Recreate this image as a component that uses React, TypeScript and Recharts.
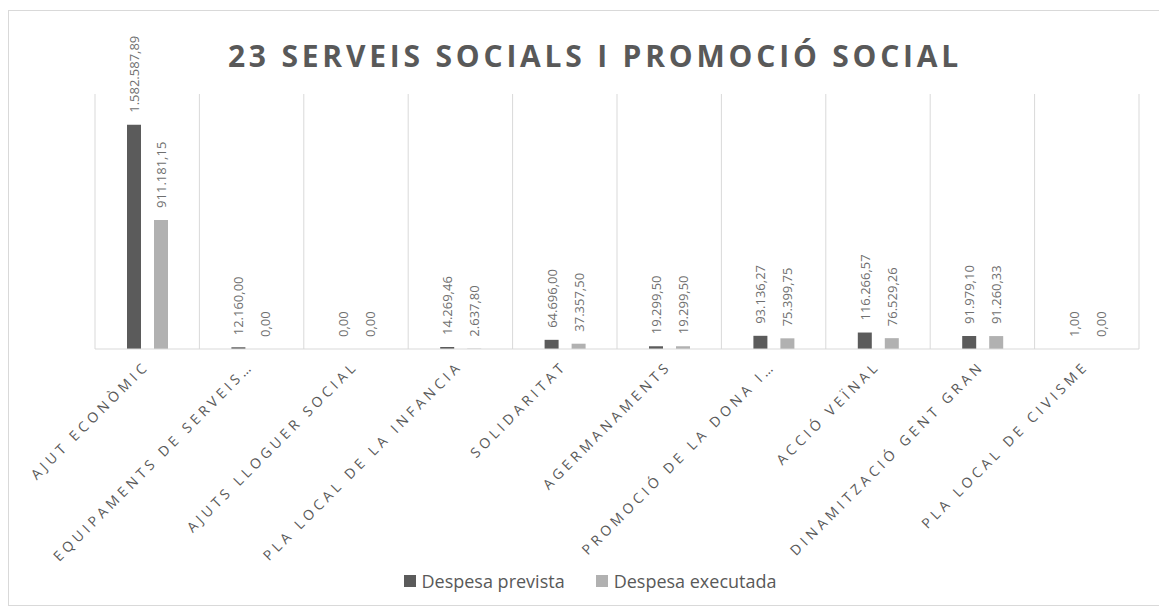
import { BarChart, Bar, XAxis, YAxis, CartesianGrid, Legend, LabelList } from 'recharts';

const categories = [
  'AJUT ECONÒMIC',
  'EQUIPAMENTS DE SERVEIS…',
  'AJUTS LLOGUER SOCIAL',
  'PLA LOCAL DE LA INFANCIA',
  'SOLIDARITAT',
  'AGERMANAMENTS',
  'PROMOCIÓ DE LA DONA I…',
  'ACCIÓ VEÏNAL',
  'DINAMITZACIÓ GENT GRAN',
  'PLA LOCAL DE CIVISME',
];

const despesaPrevista = [1582587.89, 12160.0, 0, 14269.46, 64696.0, 19299.5, 93136.27, 116266.57, 91979.1, 1.0];
const despesaExecutada = [911181.15, 0, 0, 2637.8, 37357.5, 19299.5, 75399.75, 76529.26, 91260.33, 0];

const seriesOrder = ['Despesa prevista', 'Despesa executada'];

const data = categories.map((name, i) => ({
  name,
  prevista: despesaPrevista[i],
  executada: despesaExecutada[i],
}));

const DARK = '#5b5b5b';
const LIGHT = '#b1b1b1';
const TEXT = '#595959';
const FONT = '"Open Sans", sans-serif';

// 1582587.89 -> "1.582.587,89"
function fmt(v: number) {
  const [int, dec] = v.toFixed(2).split('.');
  return int.replace(/\B(?=(\d{3})+(?!\d))/g, '.') + ',' + dec;
}

function ValueLabel(props: any) {
  const { x, y, width, value } = props;
  const cx = x + width / 2;
  const ty = y - 12;
  return (
    <text
      x={cx}
      y={ty}
      transform={`rotate(-90, ${cx}, ${ty})`}
      textAnchor="start"
      dominantBaseline="central"
      fontSize={13}
      fontFamily={FONT}
      fill="#6f6f6f"
    >
      {fmt(Number(value))}
    </text>
  );
}

function CategoryTick(props: any) {
  const { x, y, payload } = props;
  return (
    <g transform={`translate(${x},${y})`}>
      <text
        x={3}
        y={18}
        transform="rotate(-45, 3, 18)"
        textAnchor="end"
        fontSize={14}
        fontFamily={FONT}
        letterSpacing={4}
        fill={TEXT}
      >
        {payload.value}
      </text>
    </g>
  );
}

function LegendContent(props: any) {
  const payload = [...(props.payload || [])].sort(
    (a: any, b: any) => seriesOrder.indexOf(a.value) - seriesOrder.indexOf(b.value)
  );
  return (
    <div
      style={{
        display: 'flex',
        justifyContent: 'center',
        gap: 31,
        paddingTop: 4,
        paddingRight: 54,
        fontFamily: FONT,
        fontSize: 18,
        color: TEXT,
      }}
    >
      {payload.map((p: any) => (
        <div key={p.value} style={{ display: 'flex', alignItems: 'center' }}>
          <span style={{ display: 'inline-block', width: 12, height: 12, background: p.color, marginRight: 6 }} />
          <span>{p.value}</span>
        </div>
      ))}
    </div>
  );
}

export default function App() {
  return (
    <div
      style={{
        position: 'relative',
        width: 1154,
        height: 594,
        marginTop: 2,
        border: '1px solid #d9d9d9',
        background: '#fff',
      }}
    >
      <div
        style={{
          position: 'absolute',
          top: 24,
          left: 9,
          width: '100%',
          textAlign: 'center',
          fontFamily: FONT,
          fontWeight: 700,
          fontSize: 30,
          letterSpacing: 3.8,
          color: TEXT,
        }}
      >
        23 SERVEIS SOCIALS I PROMOCIÓ SOCIAL
      </div>
      <BarChart
        width={1154}
        height={594}
        data={data}
        margin={{ top: 83, right: 24, left: 86, bottom: 10 }}
        barSize={14}
        barGap={13}
      >
        <CartesianGrid
          horizontal={false}
          stroke="#d9d9d9"
          verticalCoordinatesGenerator={({ offset }: any) =>
            categories
              .map((_, i) => offset.left + (i * offset.width) / categories.length)
              .concat(offset.left + offset.width)
          }
        />
        <XAxis
          dataKey="name"
          interval={0}
          tickLine={false}
          tickSize={0}
          tickMargin={0}
          height={216}
          axisLine={{ stroke: '#d9d9d9' }}
          tick={<CategoryTick />}
        />
        <YAxis hide domain={[0, 1800000]} />
        <Legend verticalAlign="bottom" height={30} content={<LegendContent />} />
        <Bar dataKey="prevista" name="Despesa prevista" fill={DARK} minPointSize={0.01} isAnimationActive={false}>
          <LabelList dataKey="prevista" content={<ValueLabel />} />
        </Bar>
        <Bar dataKey="executada" name="Despesa executada" fill={LIGHT} minPointSize={0.01} isAnimationActive={false}>
          <LabelList dataKey="executada" content={<ValueLabel />} />
        </Bar>
      </BarChart>
    </div>
  );
}
